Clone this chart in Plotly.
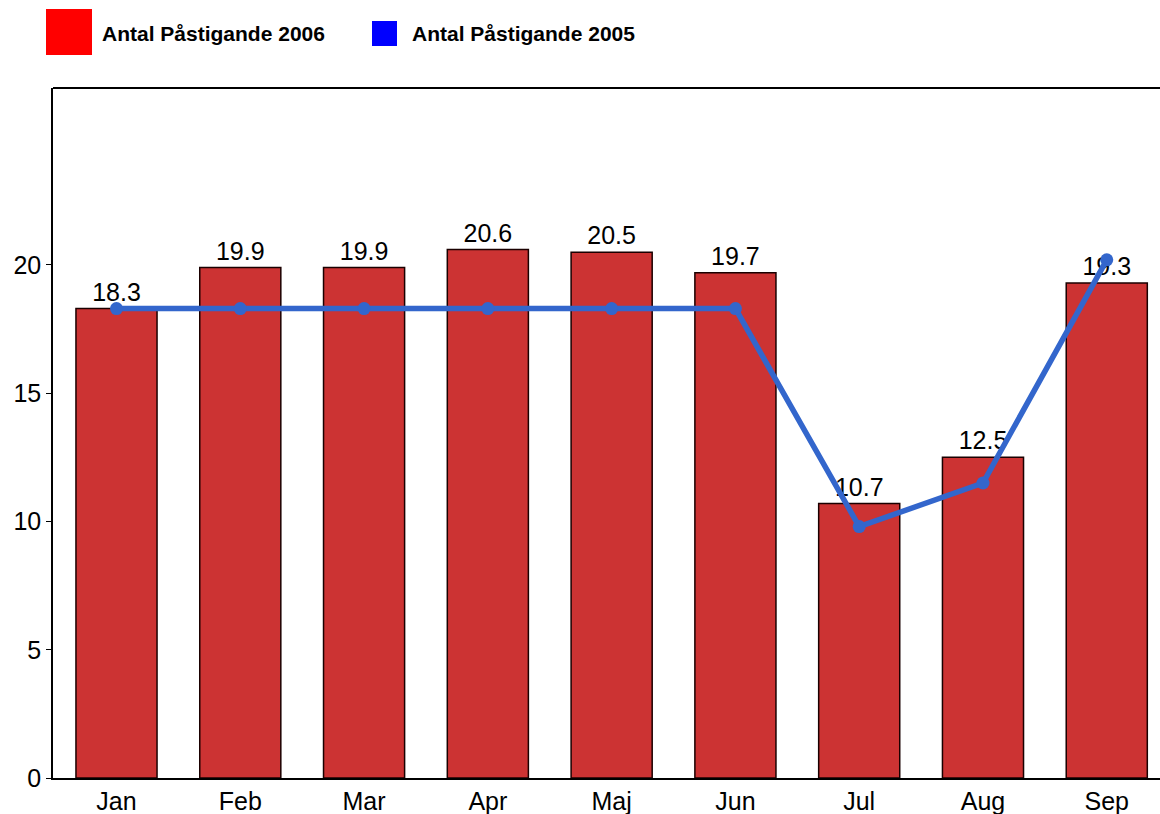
import plotly.graph_objects as go

months = ["Jan", "Feb", "Mar", "Apr", "Maj", "Jun", "Jul", "Aug", "Sep"]
values_2006 = [18.3, 19.9, 19.9, 20.6, 20.5, 19.7, 10.7, 12.5, 19.3]
values_2005 = [18.3, 18.3, 18.3, 18.3, 18.3, 18.3, 9.8, 11.5, 20.2]
y_ticks = [0, 5, 10, 15, 20]
legend_names = ["Antal Påstigande 2006", "Antal Påstigande 2005"]

W, H = 1160, 814
ML, MR, MT, MB = 53, 0, 88, 36
PW, PH = W - ML - MR, H - MT - MB
FONT = "Liberation Sans, Arial"


def px_x(p):
    return (p - ML) / PW


def px_y(p):
    return (H - MB - p) / PH


fig = go.Figure()
fig.add_trace(go.Bar(
    x=list(range(len(months))), y=values_2006, width=0.655,
    marker=dict(color="#CC3333", line=dict(color="#1a0000", width=1.5)),
    text=[f"{v:.1f}" for v in values_2006], textposition="outside",
    textfont=dict(size=25, color="black", family=FONT),
    cliponaxis=False, showlegend=False, name=legend_names[0],
))
fig.add_trace(go.Scatter(
    x=list(range(len(months))), y=values_2005, mode="lines+markers",
    line=dict(color="#3366CC", width=5.5), marker=dict(size=13, color="#3366CC"),
    showlegend=False, name=legend_names[1], cliponaxis=False,
))

# legend drawn manually
shapes = [
    dict(type="rect", xref="paper", yref="paper", x0=px_x(46), x1=px_x(92),
         y0=px_y(55), y1=px_y(9), fillcolor="#FF0000", line=dict(width=0)),
    dict(type="rect", xref="paper", yref="paper", x0=px_x(372), x1=px_x(397),
         y0=px_y(46), y1=px_y(21), fillcolor="#0000FF", line=dict(width=0)),
    # top frame line
    dict(type="line", xref="paper", yref="paper", x0=0, x1=1, y0=1, y1=1,
         line=dict(color="black", width=2)),
]
annotations = [
    dict(text=f"<b>{legend_names[0]}</b>", xref="paper", yref="paper",
         x=px_x(100), y=px_y(33), xanchor="left", yanchor="middle", showarrow=False,
         font=dict(size=21, color="black", family=FONT)),
    dict(text=f"<b>{legend_names[1]}</b>", xref="paper", yref="paper",
         x=px_x(410), y=px_y(33), xanchor="left", yanchor="middle", showarrow=False,
         font=dict(size=21, color="black", family=FONT)),
]

fig.update_layout(
    width=W, height=H, margin=dict(l=ML, r=MR, t=MT, b=MB),
    paper_bgcolor="white", plot_bgcolor="white",
    font=dict(family=FONT, size=25, color="black"),
    shapes=shapes, annotations=annotations, bargap=0.35,
)
fig.update_xaxes(
    range=[-0.513, 8.43], tickvals=list(range(len(months))), ticktext=months,
    showline=True, linecolor="black", linewidth=1.5, mirror=False,
    ticks="", showgrid=False, zeroline=False,
    tickfont=dict(size=25, color="black"),
)
fig.update_yaxes(
    range=[0, 26.9], tickvals=y_ticks,
    showline=True, linecolor="black", linewidth=1.5, mirror=False,
    ticks="outside", ticklen=5, tickcolor="black", showgrid=False, zeroline=False,
    tickfont=dict(size=25, color="black"),
)

fig.write_html(
    "out.html",
    config={"displayModeBar": False},
    post_script="document.body.style.margin='0';document.body.style.overflow='hidden';",
)
